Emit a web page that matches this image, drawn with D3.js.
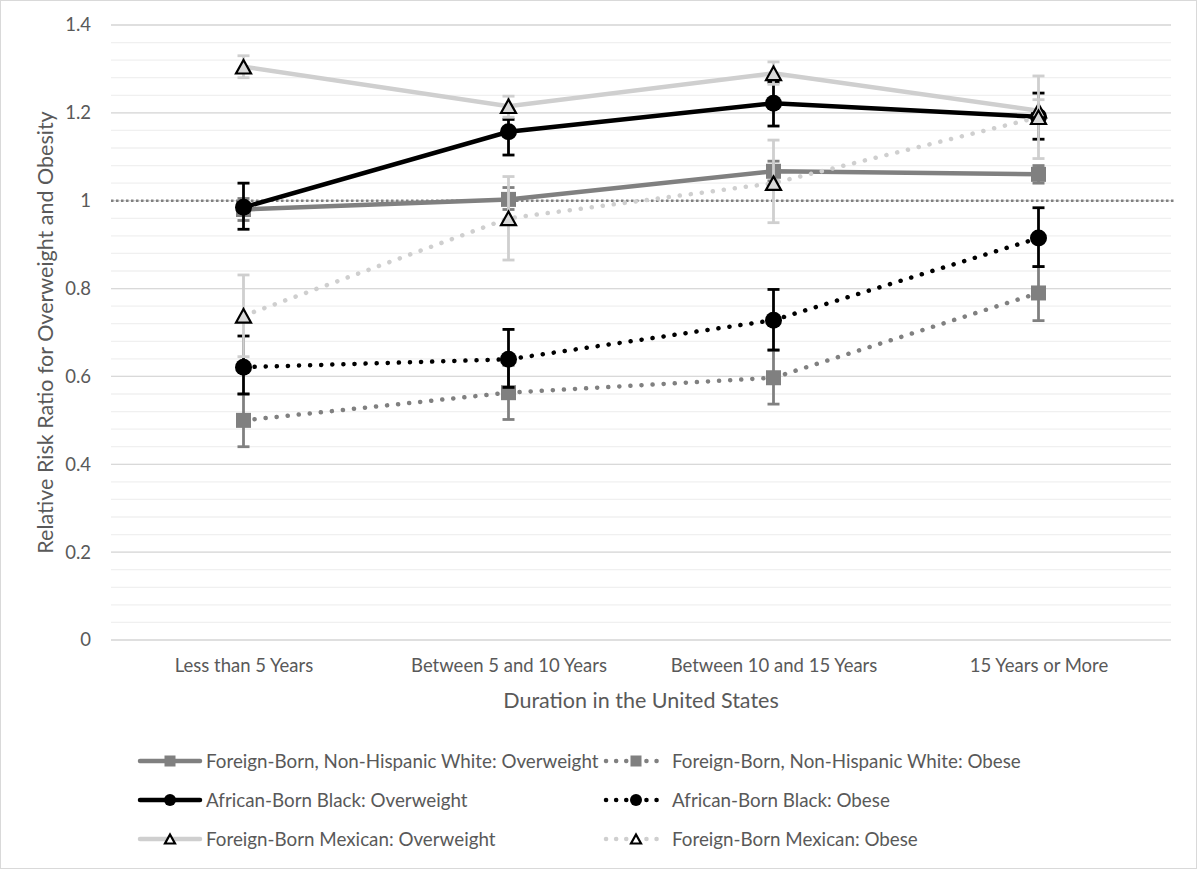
<!DOCTYPE html>
<html>
<head>
<meta charset="utf-8">
<script src="https://cdn.jsdelivr.net/npm/d3@7"></script>
<style>
  body { margin: 0; background: #fff; }
  text { font-family: Lato, "Liberation Sans", sans-serif; fill: #595959; }
</style>
</head>
<body>
<svg id="chart"></svg>
<script>
// categories
var categories = ["Less than 5 Years", "Between 5 and 10 Years", "Between 10 and 15 Years", "15 Years or More"];
var yTicks = [0, 0.2, 0.4, 0.6, 0.8, 1, 1.2, 1.4];

// values (point, lower, upper)
var whiteOverweight = [0.98, 1.003, 1.067, 1.06];
var whiteOverweightLow = [0.955, 0.98, 1.045, 1.04];
var whiteOverweightHigh = [1.005, 1.03, 1.09, 1.08];

var whiteObese = [0.5, 0.563, 0.597, 0.79];
var whiteObeseLow = [0.44, 0.502, 0.537, 0.727];
var whiteObeseHigh = [0.56, 0.625, 0.66, 0.85];

var blackOverweight = [0.985, 1.157, 1.222, 1.191];
var blackOverweightLow = [0.935, 1.104, 1.17, 1.14];
var blackOverweightHigh = [1.04, 1.185, 1.27, 1.245];

var blackObese = [0.621, 0.639, 0.728, 0.915];
var blackObeseLow = [0.56, 0.575, 0.66, 0.85];
var blackObeseHigh = [0.692, 0.707, 0.798, 0.984];

var mexicanOverweight = [1.305, 1.215, 1.29, 1.205];
var mexicanOverweightLow = [1.28, 1.19, 1.265, 1.18];
var mexicanOverweightHigh = [1.33, 1.238, 1.316, 1.23];

var mexicanObese = [0.738, 0.96, 1.04, 1.19];
var mexicanObeseLow = [0.645, 0.865, 0.95, 1.096];
var mexicanObeseHigh = [0.831, 1.055, 1.138, 1.284];

var seriesNames = [
  "Foreign-Born, Non-Hispanic White: Overweight",
  "Foreign-Born, Non-Hispanic White: Obese",
  "African-Born Black: Overweight",
  "African-Born Black: Obese",
  "Foreign-Born Mexican: Overweight",
  "Foreign-Born Mexican: Obese"
];

const width = 1197, height = 869;
const plotLeft = 111, plotRight = 1171, plotTop = 25, plotBottom = 640;
const fontFamily = "Lato, 'Liberation Sans', sans-serif";

var series = [
  { name: seriesNames[0], v: whiteOverweight, lo: whiteOverweightLow, hi: whiteOverweightHigh, color: "#808080", dotted: false, marker: "square" },
  { name: seriesNames[1], v: whiteObese, lo: whiteObeseLow, hi: whiteObeseHigh, color: "#808080", dotted: true, marker: "square" },
  { name: seriesNames[2], v: blackOverweight, lo: blackOverweightLow, hi: blackOverweightHigh, color: "#000000", dotted: false, marker: "circle" },
  { name: seriesNames[3], v: blackObese, lo: blackObeseLow, hi: blackObeseHigh, color: "#000000", dotted: true, marker: "circle" },
  { name: seriesNames[4], v: mexicanOverweight, lo: mexicanOverweightLow, hi: mexicanOverweightHigh, color: "#cfcfcf", dotted: false, marker: "triangle" },
  { name: seriesNames[5], v: mexicanObese, lo: mexicanObeseLow, hi: mexicanObeseHigh, color: "#cfcfcf", dotted: true, marker: "triangle" }
];

var svg = d3.select("#chart").attr("width", width).attr("height", height);

svg.append("rect")
  .attr("x", 0.5).attr("y", 0.5)
  .attr("width", width - 1).attr("height", height - 1)
  .attr("fill", "#fff").attr("stroke", "#d9d9d9");

var x = d3.scalePoint().domain(categories).range([plotLeft, plotRight]).padding(0.5);
var y = d3.scaleLinear().domain([0, 1.4]).range([plotBottom, plotTop]);

// minor gridlines
svg.append("g")
  .selectAll("line")
  .data(d3.range(0, 36).map(function (i) { return i * 0.04; }))
  .enter()
  .append("line")
  .attr("x1", plotLeft).attr("x2", plotRight)
  .attr("y1", function (d) { return y(d); })
  .attr("y2", function (d) { return y(d); })
  .attr("stroke", "#f0f0f0")
  .attr("stroke-width", 1.3);

// major gridlines
svg.append("g")
  .selectAll("line")
  .data(yTicks.slice(1))
  .enter()
  .append("line")
  .attr("x1", plotLeft).attr("x2", plotRight)
  .attr("y1", function (d) { return y(d); })
  .attr("y2", function (d) { return y(d); })
  .attr("stroke", "#d9d9d9")
  .attr("stroke-width", 1.3);

// y axis labels
svg.append("g")
  .attr("transform", "translate(" + (plotLeft - 20) + ",0)")
  .call(d3.axisLeft(y).tickValues(yTicks).tickSize(0).tickFormat(d3.format("~g")))
  .call(function (g) { g.select(".domain").remove(); })
  .call(function (g) {
    g.selectAll("text")
      .attr("x", 0)
      .style("font-family", fontFamily)
      .style("font-size", "18.5px")
      .attr("fill", "#595959");
  });

// x axis
svg.append("g")
  .attr("transform", "translate(0," + plotBottom + ")")
  .call(d3.axisBottom(x).tickSize(0).tickPadding(19))
  .call(function (g) {
    g.select(".domain").attr("stroke", "#d9d9d9").attr("stroke-width", 1.5)
      .attr("d", "M" + plotLeft + ",0H" + plotRight);
    g.selectAll("text")
      .style("font-family", fontFamily)
      .style("font-size", "18.5px")
      .attr("fill", "#595959");
  });

// axis titles
svg.append("text")
  .attr("x", (plotLeft + plotRight) / 2)
  .attr("y", 708)
  .attr("text-anchor", "middle")
  .style("font-size", "21.5px")
  .text("Duration in the United States");

svg.append("text")
  .attr("transform", "translate(53," + (plotTop + plotBottom) / 2 + ") rotate(-90)")
  .attr("text-anchor", "middle")
  .style("font-size", "21.5px")
  .text("Relative Risk Ratio for Overweight and Obesity");

// reference line at 1
svg.append("line")
  .attr("x1", plotLeft).attr("x2", plotRight + 4)
  .attr("y1", y(1)).attr("y2", y(1))
  .attr("stroke", "#808080")
  .attr("stroke-width", 2.5)
  .attr("stroke-dasharray", "2.5,2.5");

function drawMarker(g, type, cx, cy, size, s) {
  if (type === "square") {
    g.append("rect")
      .attr("x", cx - size / 2).attr("y", cy - size / 2)
      .attr("width", size).attr("height", size)
      .attr("fill", s.color);
  } else if (type === "circle") {
    g.append("circle")
      .attr("cx", cx).attr("cy", cy).attr("r", size / 2)
      .attr("fill", s.color);
  } else {
    var h = size * 0.9;
    g.append("path")
      .attr("d", "M" + cx + "," + (cy - h / 2) + "L" + (cx + size / 2) + "," + (cy + h / 2) + "L" + (cx - size / 2) + "," + (cy + h / 2) + "Z")
      .attr("fill", s.legend ? "#fff" : "#d9d9d9")
      .attr("stroke", "#000")
      .attr("stroke-width", 2.2)
      .attr("stroke-linejoin", "miter");
  }
}

var line = d3.line()
  .x(function (d, i) { return x(categories[i]); })
  .y(function (d) { return y(d); });

series.forEach(function (s) {
  var g = svg.append("g");
  g.append("path")
    .attr("d", line(s.v))
    .attr("fill", "none")
    .attr("stroke", s.color)
    .attr("stroke-width", 4.5)
    .attr("stroke-linecap", s.dotted ? "round" : "butt")
    .attr("stroke-dasharray", s.dotted ? "0.1,11" : null);

  // error bars
  s.v.forEach(function (v, i) {
    var cx = x(categories[i]);
    var eb = g.append("g");
    eb.append("line")
      .attr("x1", cx).attr("x2", cx)
      .attr("y1", y(s.lo[i])).attr("y2", y(s.hi[i]))
      .attr("stroke", s.color).attr("stroke-width", 2.8);
    [s.lo[i], s.hi[i]].forEach(function (e) {
      eb.append("line")
        .attr("x1", cx - 6).attr("x2", cx + 6)
        .attr("y1", y(e)).attr("y2", y(e))
        .attr("stroke", s.color).attr("stroke-width", 2.8);
    });
  });

  s.v.forEach(function (v, i) {
    var size = s.marker === "circle" ? 17 : 15;
    drawMarker(g, s.marker, x(categories[i]), y(v), size, s);
  });
});

// legend
var legendCols = [140, 606];
var legendRows = [761, 800, 839];
series.forEach(function (s, i) {
  var lx = legendCols[i % 2], ly = legendRows[Math.floor(i / 2)];
  var g = svg.append("g");
  g.append("line")
    .attr("x1", lx).attr("x2", lx + 60)
    .attr("y1", ly).attr("y2", ly)
    .attr("stroke", s.color)
    .attr("stroke-width", 4.5)
    .attr("stroke-linecap", "round")
    .attr("stroke-dasharray", s.dotted ? "0.1,10" : null);
  var size = s.marker === "circle" ? 12 : (s.marker === "square" ? 11 : 10);
  drawMarker(g, s.marker, lx + 30, ly, size, { color: s.color, legend: true });
  g.append("text")
    .attr("x", lx + 66)
    .attr("y", ly + 6.5)
    .style("font-size", "18.8px")
    .text(s.name);
});
</script>
</body>
</html>
